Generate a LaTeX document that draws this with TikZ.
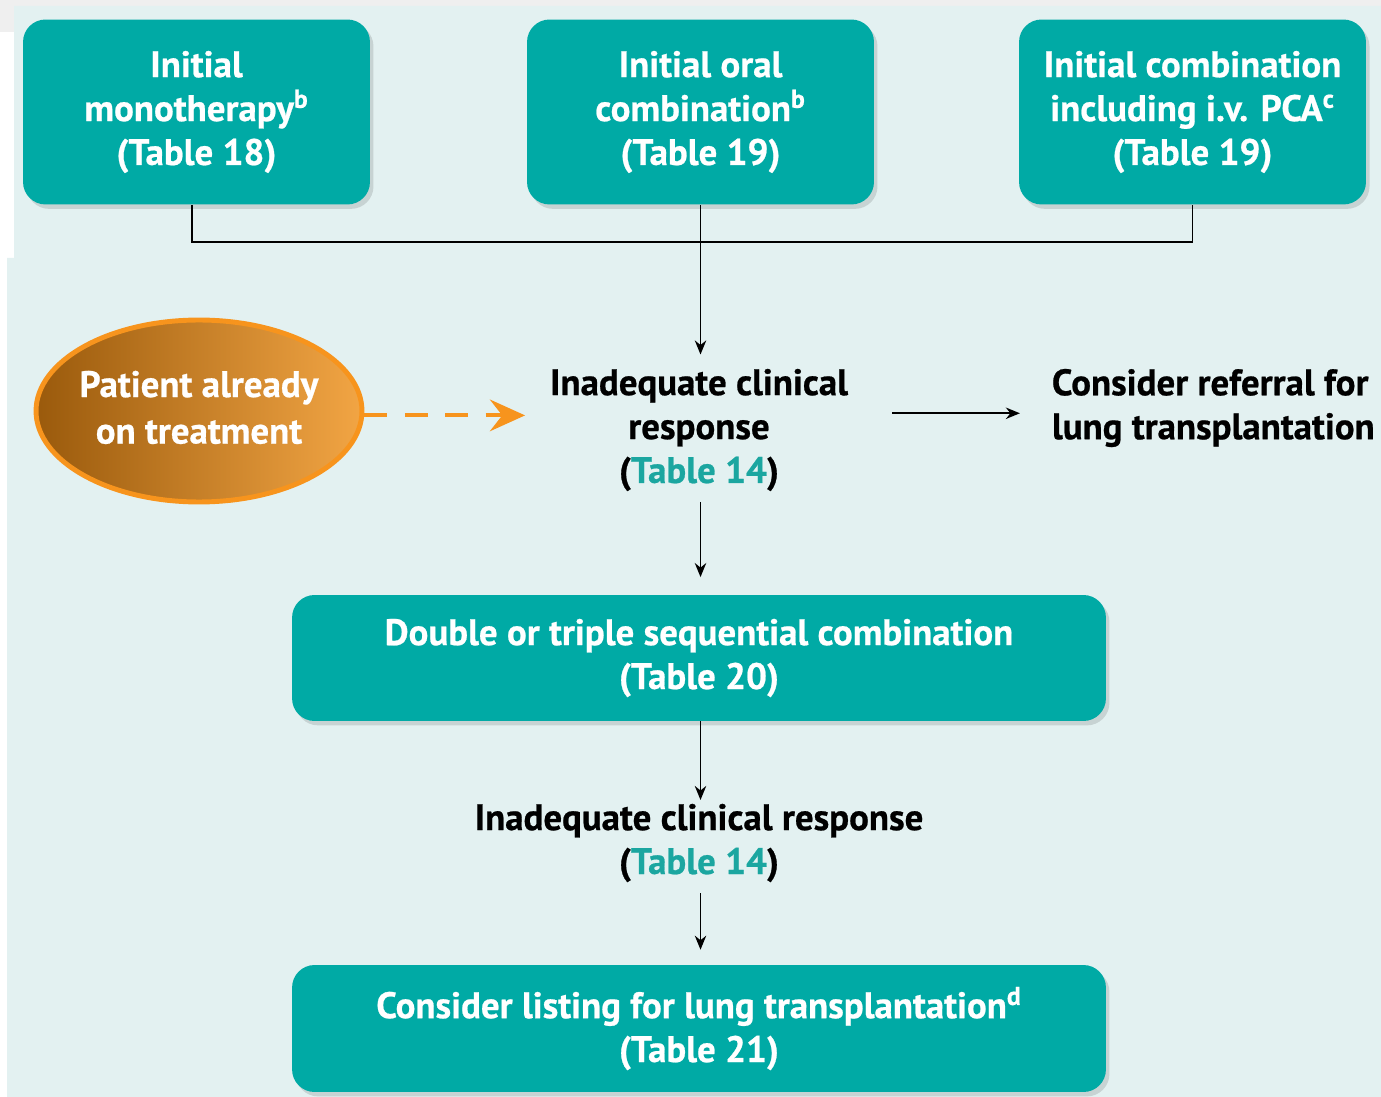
\documentclass[tikz,border=0pt]{standalone}
\usepackage{fontspec}
\setmainfont{PT Sans}[FakeBold=0.6]
\usetikzlibrary{arrows.meta,shadows,shapes.geometric}
\definecolor{bgteal}{HTML}{E3F1F1}
\definecolor{bggrey}{HTML}{EFEFEF}
\definecolor{boxteal}{HTML}{00AAA5}
\definecolor{tabteal}{HTML}{1BA6A0}
\definecolor{orline}{HTML}{F7941D}
\definecolor{ordark}{HTML}{9A5A0C}
\definecolor{orlight}{HTML}{F2A544}
\tikzset{
  txtfont/.style={font=\bfseries\fontsize{21}{25}\selectfont},
  tbox/.style={txtfont, rounded corners=0.45cm, fill=boxteal, text=white, align=center,
    drop shadow={shadow xshift=2pt, shadow yshift=-2.5pt, opacity=0.12, fill=black}},
  lbl/.style={txtfont, text=black, align=center, inner sep=6pt},
  arr/.style={-{Stealth[length=8pt,width=6.5pt]}, line width=1.1pt, black},
  conn/.style={line width=1.1pt, black},
}
\begin{document}
\begin{tikzpicture}[x=0.02cm,y=-0.02cm]
\useasboundingbox (0,0) rectangle (1381,1097);
% background
\fill[white] (0,0) rectangle (1381,1097);
\fill[bggrey] (0,0) rectangle (1381,6);
\fill[bggrey] (0,6) rectangle (14,32);
\fill[bgteal] (14,6) -- (1381,6) -- (1381,1097) -- (7,1097) -- (7,258) -- (14,258) -- cycle;

% top boxes
\node[tbox, minimum width=6.94cm, minimum height=3.7cm] (b1) at (196.5,112)
  {Initial\\monotherapy\textsuperscript{b}\\(Table 18)};
\node[tbox, minimum width=6.94cm, minimum height=3.7cm] (b2) at (700.5,112)
  {Initial oral\\combination\textsuperscript{b}\\(Table 19)};
\node[tbox, minimum width=6.94cm, minimum height=3.7cm] (b3) at (1192.5,112)
  {Initial combination\\including i.v. PCA\textsuperscript{c}\\(Table 19)};

% middle
\node[lbl] (inad1) at (699,430)
  {Inadequate clinical\\response\\(\textcolor{tabteal}{Table 14})};
\node[txtfont, text=black, align=left, anchor=west, inner sep=6pt] (ref) at (1041,408)
  {Consider referral for\\lung transplantation};
\node[ellipse, txtfont, text=white, draw=orline, line width=2.8pt, inner sep=0pt,
  left color=ordark, right color=orlight, minimum width=6.52cm, minimum height=3.64cm] (pat) at (199,411)
  {\makebox[3cm]{\raisebox{-1.5pt}{\renewcommand{\arraystretch}{1.06}\begin{tabular}{@{}c@{}}Patient already\\on treatment\end{tabular}}}};

\node[tbox, minimum width=16.28cm, minimum height=2.52cm] (b4) at (699,658)
  {Double or triple sequential combination\\(Table 20)};
\node[lbl] (inad2) at (699,843)
  {Inadequate clinical response\\(\textcolor{tabteal}{Table 14})};
\node[tbox, minimum width=16.28cm, minimum height=2.54cm] (b5) at (699,1028.5)
  {Consider listing for lung transplantation\textsuperscript{d}\\(Table 21)};

% connectors
\coordinate (jm) at (701,242);
\draw[conn] ([xshift=-2.5pt]b1.south) |- (jm) -| (b3.south);
\draw[arr, shorten >=2pt] (b2.south) -- (b2.south |- inad1.north);
\draw[arr, shorten <=19pt, shorten >=12pt] ([yshift=-3pt]inad1.east |- ref.west) -- ([yshift=-3pt]ref.west);
\draw[orline, line width=2.3pt, dash pattern=on 13pt off 10pt, -{Stealth[length=20pt,width=18pt,inset=7pt]}, shorten >=8pt]
  ([yshift=-2.5pt]pat.east) -- ([yshift=-2.5pt]inad1.west |- pat.east);
\draw[arr, shorten >=10pt] (b2.south |- inad1.south) -- (b2.south |- b4.north);
\draw[arr, shorten >=-4pt] (b2.south |- b4.south) -- (b2.south |- inad2.north);
\draw[arr, shorten >=8.5pt] (b2.south |- inad2.south) -- (b2.south |- b5.north);
\end{tikzpicture}
\end{document}
